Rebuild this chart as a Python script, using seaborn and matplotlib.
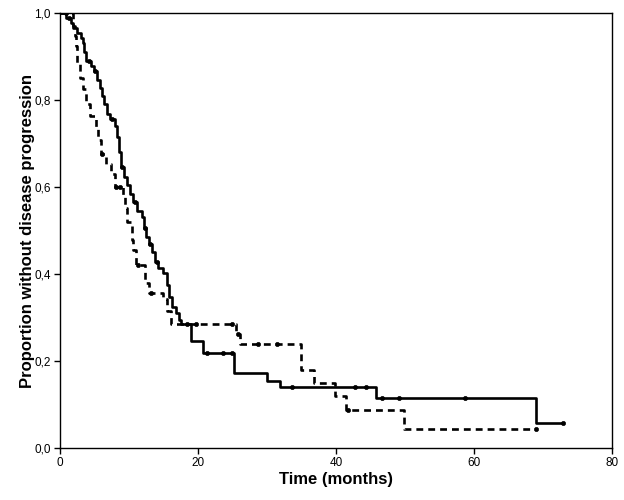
import numpy as np
import pandas as pd
import seaborn as sns
import matplotlib.pyplot as plt

# Kaplan-Meier steps (time in months, survival after the event)
solid_t = [0, 1.0, 1.7, 2.0, 2.6, 3.1, 3.4, 3.6, 3.9, 4.6, 5.0, 5.4, 5.8, 6.1, 6.4,
           6.8, 7.3, 8.0, 8.3, 8.6, 8.9, 9.3, 9.7, 10.2, 10.7, 11.2, 11.9, 12.2,
           12.5, 12.9, 13.4, 13.8, 14.3, 15.0, 15.5, 15.8, 16.3, 16.8, 17.3, 17.6,
           19.0, 20.8, 25.3, 30.0, 31.9, 45.8, 69.0, 72.9]
solid_s = [1.0, 0.989, 0.977, 0.966, 0.955, 0.943, 0.93, 0.91, 0.89, 0.878, 0.866,
           0.847, 0.828, 0.81, 0.79, 0.768, 0.756, 0.74, 0.716, 0.68, 0.645, 0.624,
           0.605, 0.585, 0.565, 0.545, 0.532, 0.505, 0.486, 0.47, 0.45, 0.428,
           0.414, 0.402, 0.375, 0.348, 0.325, 0.31, 0.295, 0.285, 0.246, 0.218,
           0.172, 0.155, 0.14, 0.115, 0.058, 0.058]
solid_cens = [1.4, 4.3, 5.2, 7.6, 9.0, 10.9, 12.3, 13.1, 14.1, 18.4, 21.3, 23.6,
              25.0, 33.7, 42.8, 44.3, 46.7, 49.1, 58.7, 72.9]

dash_t = [0, 2.0, 2.2, 2.4, 2.5, 3.0, 3.4, 3.9, 4.4, 5.3, 5.6, 6.0, 6.7, 7.5, 8.0,
          9.2, 9.5, 9.8, 10.5, 10.7, 11.1, 12.3, 12.9, 14.9, 15.6, 16.2, 25.6,
          26.1, 35.0, 36.8, 39.8, 41.5, 49.8, 69.0]
dash_s = [1.0, 0.97, 0.946, 0.923, 0.884, 0.85, 0.825, 0.79, 0.764, 0.738, 0.708,
          0.675, 0.652, 0.63, 0.6, 0.582, 0.551, 0.52, 0.478, 0.455, 0.42, 0.38,
          0.356, 0.342, 0.316, 0.285, 0.262, 0.24, 0.18, 0.15, 0.12, 0.087, 0.043,
          0.043]
dash_cens = [1.0, 6.1, 8.2, 8.7, 11.4, 13.3, 19.8, 24.9, 25.8, 28.7, 31.4, 41.7, 69.0]


def step_value(ts, ss, x):
    i = np.searchsorted(ts, x, side='right') - 1
    return np.asarray(ss)[i]


curves = pd.concat([
    pd.DataFrame({'time': solid_t, 'surv': solid_s, 'group': 'A'}),
    pd.DataFrame({'time': dash_t, 'surv': dash_s, 'group': 'B'}),
])
cens = pd.concat([
    pd.DataFrame({'time': solid_cens, 'surv': step_value(solid_t, solid_s, solid_cens), 'group': 'A'}),
    pd.DataFrame({'time': dash_cens, 'surv': step_value(dash_t, dash_s, dash_cens), 'group': 'B'}),
])

sns.set_style('ticks')
plt.rcParams['font.family'] = ['Liberation Sans', 'DejaVu Sans']

fig = plt.figure(figsize=(6.24, 5.0), dpi=100)
ax = fig.add_axes([0.0954, 0.104, 0.886, 0.87])

sns.lineplot(data=curves, x='time', y='surv', style='group', estimator=None,
             dashes={'A': '', 'B': (2.6, 1.9)}, color='black', linewidth=1.9,
             drawstyle='steps-post', legend=False, ax=ax)
sns.scatterplot(data=cens, x='time', y='surv', color='black', marker='o', s=9,
                edgecolor='black', linewidth=0.5, legend=False, ax=ax, zorder=3)

ax.set_xlim(0, 80)
ax.set_ylim(0, 1.0)
ax.set_xticks([0, 20, 40, 60, 80])
ax.set_yticks(np.arange(0, 1.01, 0.2))
ax.set_yticklabels([f'{v:.1f}'.replace('.', ',') for v in np.arange(0, 1.01, 0.2)])
ax.tick_params(labelsize=8.5, length=4.5, width=1, colors='black', pad=2)
for sp in ax.spines.values():
    sp.set_linewidth(1)
    sp.set_color('black')

ax.set_xlabel('Time (months)', fontsize=12, fontweight='bold', color='black', labelpad=2)
ax.set_ylabel('Proportion without disease progression', fontsize=12,
              fontweight='bold', color='black', labelpad=-1)

fig.savefig('out.png', dpi=100)
